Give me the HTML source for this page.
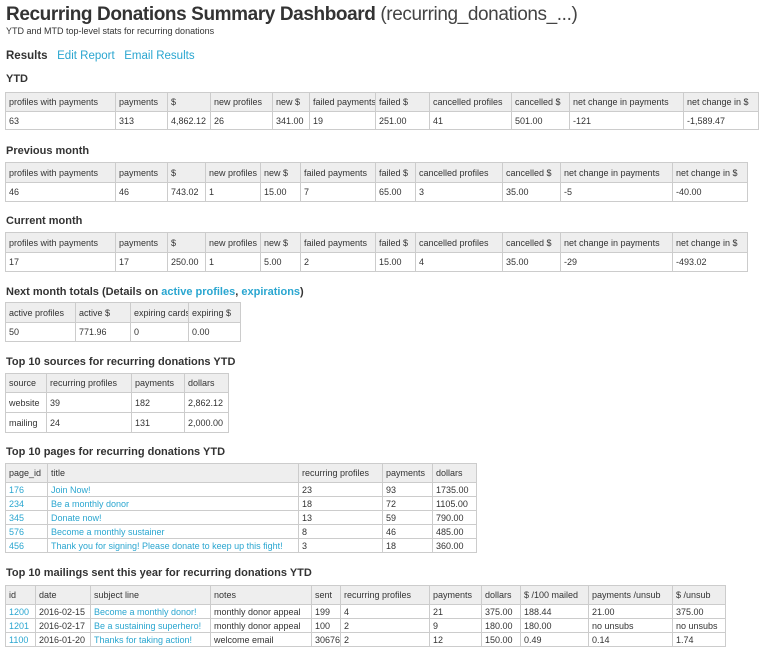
<!DOCTYPE html><html><head><meta charset="utf-8"><style>
body{margin:0;width:767px;height:657px;background:#fff;font-family:"Liberation Sans",sans-serif;color:#333;position:relative;overflow:hidden}
.a{position:absolute}
h1{position:absolute;left:6px;top:4px;margin:0;font-size:19px;font-weight:bold;color:#333;letter-spacing:-0.4px}
h1 span{font-weight:normal;color:#444}
h3{position:absolute;left:6px;margin:0;font-size:11px;font-weight:bold;color:#333}
a{color:#2aa6d0;text-decoration:none}
table{position:absolute;border-collapse:collapse;table-layout:fixed;font-size:9px}
td,th{border:1px solid #ccc;padding:0 2px 0 3px;text-align:left;white-space:nowrap;overflow:hidden;font-weight:normal}
th{background:#eee}
</style></head><body>
<h1>Recurring Donations Summary Dashboard <span>(recurring_donations_...)</span></h1>
<div class="a" style="left:6px;top:26px;font-size:9px">YTD and MTD top-level stats for recurring donations</div>
<div class="a" style="left:6px;top:50px;font-size:11.5px"><b>Results</b> &nbsp;&nbsp;<a>Edit Report</a> &nbsp;&nbsp;<a>Email Results</a></div>

<h3 style="top:73px">YTD</h3>
<table style="left:5px;top:92px;width:753px"><colgroup><col style="width:110px"><col style="width:52px"><col style="width:43px"><col style="width:62px"><col style="width:37px"><col style="width:66px"><col style="width:54px"><col style="width:82px"><col style="width:58px"><col style="width:114px"><col style="width:75px"></colgroup>
<tr style="height:19px"><th>profiles with payments</th><th>payments</th><th>$</th><th>new profiles</th><th>new $</th><th>failed payments</th><th>failed $</th><th>cancelled profiles</th><th>cancelled $</th><th>net change in payments</th><th>net change in $</th></tr>
<tr style="height:18px"><td>63</td><td>313</td><td>4,862.12</td><td>26</td><td>341.00</td><td>19</td><td>251.00</td><td>41</td><td>501.00</td><td>-121</td><td>-1,589.47</td></tr></table>

<h3 style="top:145px">Previous month</h3>
<table style="left:5px;top:162px;width:742px"><colgroup><col style="width:110px"><col style="width:52px"><col style="width:38px"><col style="width:55px"><col style="width:40px"><col style="width:75px"><col style="width:40px"><col style="width:87px"><col style="width:58px"><col style="width:112px"><col style="width:75px"></colgroup>
<tr style="height:20px"><th>profiles with payments</th><th>payments</th><th>$</th><th>new profiles</th><th>new $</th><th>failed payments</th><th>failed $</th><th>cancelled profiles</th><th>cancelled $</th><th>net change in payments</th><th>net change in $</th></tr>
<tr style="height:19px"><td>46</td><td>46</td><td>743.02</td><td>1</td><td>15.00</td><td>7</td><td>65.00</td><td>3</td><td>35.00</td><td>-5</td><td>-40.00</td></tr></table>

<h3 style="top:215px">Current month</h3>
<table style="left:5px;top:232px;width:742px"><colgroup><col style="width:110px"><col style="width:52px"><col style="width:38px"><col style="width:55px"><col style="width:40px"><col style="width:75px"><col style="width:40px"><col style="width:87px"><col style="width:58px"><col style="width:112px"><col style="width:75px"></colgroup>
<tr style="height:20px"><th>profiles with payments</th><th>payments</th><th>$</th><th>new profiles</th><th>new $</th><th>failed payments</th><th>failed $</th><th>cancelled profiles</th><th>cancelled $</th><th>net change in payments</th><th>net change in $</th></tr>
<tr style="height:19px"><td>17</td><td>17</td><td>250.00</td><td>1</td><td>5.00</td><td>2</td><td>15.00</td><td>4</td><td>35.00</td><td>-29</td><td>-493.02</td></tr></table>

<h3 style="top:286px">Next month totals (Details on <a>active profiles</a>, <a>expirations</a>)</h3>
<table style="left:5px;top:302px;width:235px"><colgroup><col style="width:70px"><col style="width:55px"><col style="width:58px"><col style="width:52px"></colgroup>
<tr style="height:20px"><th>active profiles</th><th>active $</th><th>expiring cards</th><th>expiring $</th></tr>
<tr style="height:19px"><td>50</td><td>771.96</td><td>0</td><td>0.00</td></tr></table>

<h3 style="top:356px">Top 10 sources for recurring donations YTD</h3>
<table style="left:5px;top:373px;width:223px"><colgroup><col style="width:41px"><col style="width:85px"><col style="width:53px"><col style="width:44px"></colgroup>
<tr style="height:19px"><th>source</th><th>recurring profiles</th><th>payments</th><th>dollars</th></tr>
<tr style="height:20px"><td>website</td><td>39</td><td>182</td><td>2,862.12</td></tr>
<tr style="height:20px"><td>mailing</td><td>24</td><td>131</td><td>2,000.00</td></tr></table>

<h3 style="top:446px">Top 10 pages for recurring donations YTD</h3>
<table style="left:5px;top:463px;width:471px"><colgroup><col style="width:42px"><col style="width:251px"><col style="width:84px"><col style="width:50px"><col style="width:44px"></colgroup>
<tr style="height:19px"><th>page_id</th><th>title</th><th>recurring profiles</th><th>payments</th><th>dollars</th></tr>
<tr style="height:14px"><td><a>176</a></td><td><a>Join Now!</a></td><td>23</td><td>93</td><td>1735.00</td></tr>
<tr style="height:14px"><td><a>234</a></td><td><a>Be a monthly donor</a></td><td>18</td><td>72</td><td>1105.00</td></tr>
<tr style="height:14px"><td><a>345</a></td><td><a>Donate now!</a></td><td>13</td><td>59</td><td>790.00</td></tr>
<tr style="height:14px"><td><a>576</a></td><td><a>Become a monthly sustainer</a></td><td>8</td><td>46</td><td>485.00</td></tr>
<tr style="height:14px"><td><a>456</a></td><td><a>Thank you for signing! Please donate to keep up this fight!</a></td><td>3</td><td>18</td><td>360.00</td></tr></table>

<h3 style="top:567px">Top 10 mailings sent this year for recurring donations YTD</h3>
<table style="left:5px;top:585px;width:720px"><colgroup><col style="width:30px"><col style="width:55px"><col style="width:120px"><col style="width:101px"><col style="width:29px"><col style="width:89px"><col style="width:52px"><col style="width:39px"><col style="width:68px"><col style="width:84px"><col style="width:53px"></colgroup>
<tr style="height:19px"><th>id</th><th>date</th><th>subject line</th><th>notes</th><th>sent</th><th>recurring profiles</th><th>payments</th><th>dollars</th><th>$ /100 mailed</th><th>payments /unsub</th><th>$ /unsub</th></tr>
<tr style="height:14px"><td><a>1200</a></td><td>2016-02-15</td><td><a>Become a monthly donor!</a></td><td>monthly donor appeal</td><td>199</td><td>4</td><td>21</td><td>375.00</td><td>188.44</td><td>21.00</td><td>375.00</td></tr>
<tr style="height:14px"><td><a>1201</a></td><td>2016-02-17</td><td><a>Be a sustaining superhero!</a></td><td>monthly donor appeal</td><td>100</td><td>2</td><td>9</td><td>180.00</td><td>180.00</td><td>no unsubs</td><td>no unsubs</td></tr>
<tr style="height:14px"><td><a>1100</a></td><td>2016-01-20</td><td><a>Thanks for taking action!</a></td><td>welcome email</td><td>30676</td><td>2</td><td>12</td><td>150.00</td><td>0.49</td><td>0.14</td><td>1.74</td></tr></table>
</body></html>
